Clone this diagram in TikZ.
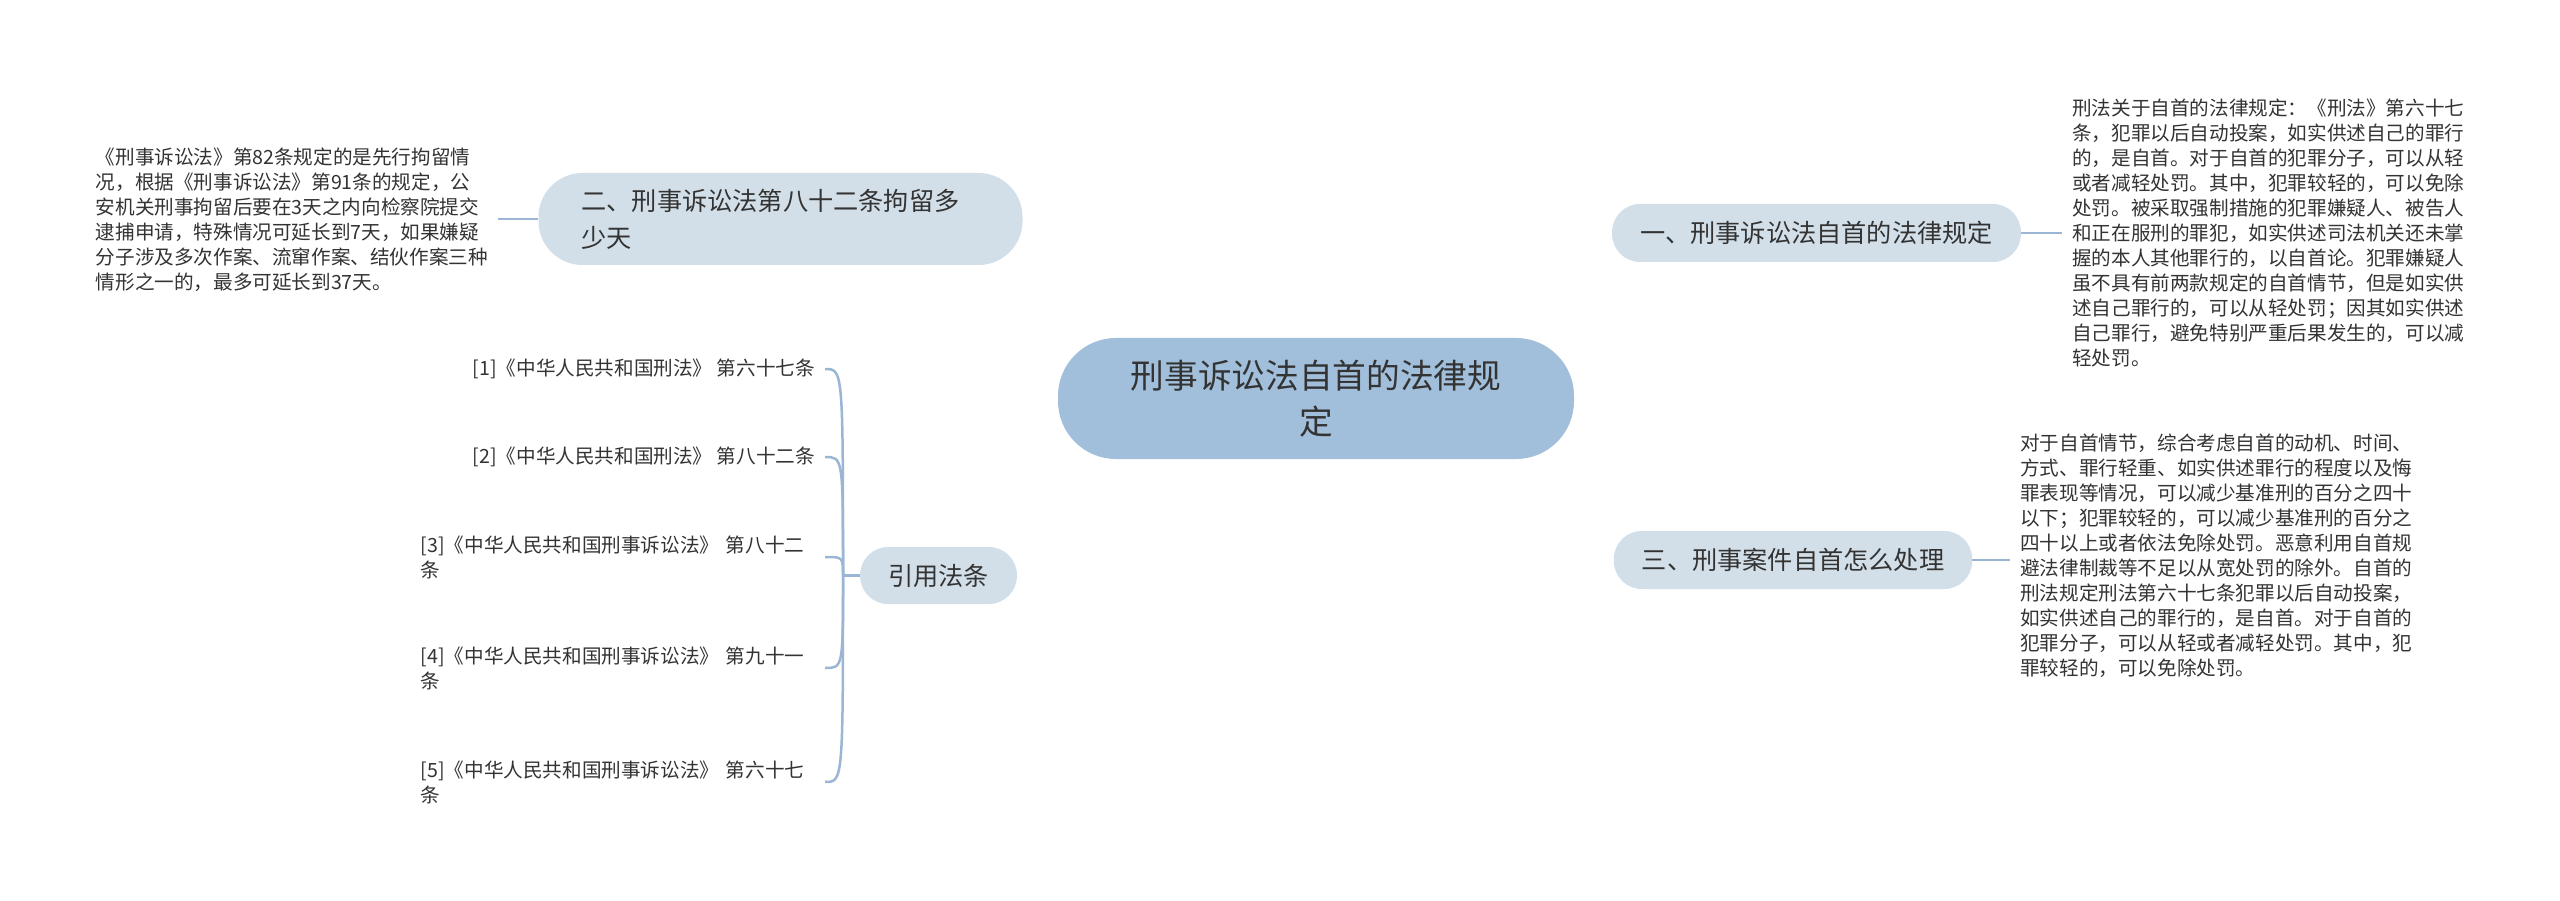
\documentclass[tikz,border=0pt]{standalone}
\usepackage{fontspec}
\setmainfont{Noto Sans CJK SC}
\usetikzlibrary{backgrounds}
\definecolor{cfill}{HTML}{A1BFDB}
\definecolor{bfill}{HTML}{D3DFE8}
\definecolor{lcol}{HTML}{9AB6D4}
\definecolor{tcol}{HTML}{333333}
\tikzset{
  rootbox/.style={fill=cfill, rounded corners=58pt, minimum width=516pt, minimum height=121pt,
    align=center, text=tcol, font=\fontsize{33.7}{46}\selectfont, inner sep=0pt},
  branchbox/.style={fill=bfill, rounded corners=28pt, minimum height=58pt, inner xsep=28pt,
    inner ysep=0pt, text=tcol, font=\fontsize{25.2}{37}\selectfont},
  leaftext/.style={align=left, text=tcol, font=\fontsize{19.6}{25}\selectfont, inner xsep=10pt, inner ysep=2pt},
  link/.style={draw=lcol, line width=2.5pt}
}
\begin{document}
\begin{tikzpicture}[x=1pt,y=-1pt]
\useasboundingbox (0,0) rectangle (2560,901);
\fill[white] (0,0) rectangle (2560,901);

% root
\node[rootbox] (c) at (1316,398.5) {刑事诉讼法自首的法律规\\定};

% branches
\node[branchbox] (b1) at (1816.5,233) {一、刑事诉讼法自首的法律规定};
\node[branchbox, rounded corners=44pt, minimum height=92pt, text width=398pt, inner xsep=43pt, align=left] (b2) at (780.5,219) {二、刑事诉讼法第八十二条拘留多\\少天};
\node[branchbox] (b3) at (1793,560) {三、刑事案件自首怎么处理};
\node[branchbox, minimum height=57pt] (yin) at (938.5,575.5) {引用法条};

% leaf texts
\node[leaftext, anchor=west] (t1) at (2062,233) {刑法关于自首的法律规定：《刑法》第六十七\\条，犯罪以后自动投案，如实供述自己的罪行\\的，是自首。对于自首的犯罪分子，可以从轻\\或者减轻处罚。其中，犯罪较轻的，可以免除\\处罚。被采取强制措施的犯罪嫌疑人、被告人\\和正在服刑的罪犯，如实供述司法机关还未掌\\握的本人其他罪行的，以自首论。犯罪嫌疑人\\虽不具有前两款规定的自首情节，但是如实供\\述自己罪行的，可以从轻处罚；因其如实供述\\自己罪行，避免特别严重后果发生的，可以减\\轻处罚。};

\node[leaftext, anchor=east] (t2) at (498,220) {《刑事诉讼法》第82条规定的是先行拘留情\\况，根据《刑事诉讼法》第91条的规定，公\\安机关刑事拘留后要在3天之内向检察院提交\\逮捕申请，特殊情况可延长到7天，如果嫌疑\\分子涉及多次作案、流窜作案、结伙作案三种\\情形之一的，最多可延长到37天。};

\node[leaftext, anchor=west] (t3) at (2010,556) {对于自首情节，综合考虑自首的动机、时间、\\方式、罪行轻重、如实供述罪行的程度以及悔\\罪表现等情况，可以减少基准刑的百分之四十\\以下；犯罪较轻的，可以减少基准刑的百分之\\四十以上或者依法免除处罚。恶意利用自首规\\避法律制裁等不足以从宽处罚的除外。自首的\\刑法规定刑法第六十七条犯罪以后自动投案，\\如实供述自己的罪行的，是自首。对于自首的\\犯罪分子，可以从轻或者减轻处罚。其中，犯\\罪较轻的，可以免除处罚。};

% references
\node[leaftext, anchor=east] (r1) at (825,369) {[1]《中华人民共和国刑法》 第六十七条};
\node[leaftext, anchor=east] (r2) at (825,457) {[2]《中华人民共和国刑法》 第八十二条};
\node[leaftext, anchor=east, text width=394pt] (r3) at (825,557) {[3]《中华人民共和国刑事诉讼法》 第八十二\\条};
\node[leaftext, anchor=east, text width=394pt] (r4) at (825,668) {[4]《中华人民共和国刑事诉讼法》 第九十一\\条};
\node[leaftext, anchor=east, text width=394pt] (r5) at (825,782) {[5]《中华人民共和国刑事诉讼法》 第六十七\\条};

\coordinate (j) at (843,575.5);

\begin{scope}[on background layer]
\draw[link] (c.center) .. controls (1300,300) and (1200,219) .. (b2.east);
\draw[link] (c.center) .. controls (1332,300) and (1430,233) .. (b1.west);
\draw[link] (c.center) .. controls (1300,500) and (1200,575.5) .. (yin.east);
\draw[link] (c.center) .. controls (1332,500) and (1430,560) .. (b3.west);
\end{scope}

\draw[link] (b1.east) -- (b1.east -| t1.west);
\draw[link] (b2.west) -- (b2.west -| t2.east);
\draw[link] (b3.east) -- (b3.east -| t3.west);

\draw[link] (yin.west) -- (j);
\draw[link] (j) .. controls (j |- r1.east) and (j |- r1.east) .. (r1.east);
\draw[link] (j) .. controls (j |- r2.east) and (j |- r2.east) .. (r2.east);
\draw[link] (j) .. controls (j |- r3.east) and (j |- r3.east) .. (r3.east);
\draw[link] (j) .. controls (j |- r4.east) and (j |- r4.east) .. (r4.east);
\draw[link] (j) .. controls (j |- r5.east) and (j |- r5.east) .. (r5.east);
\end{tikzpicture}
\end{document}
